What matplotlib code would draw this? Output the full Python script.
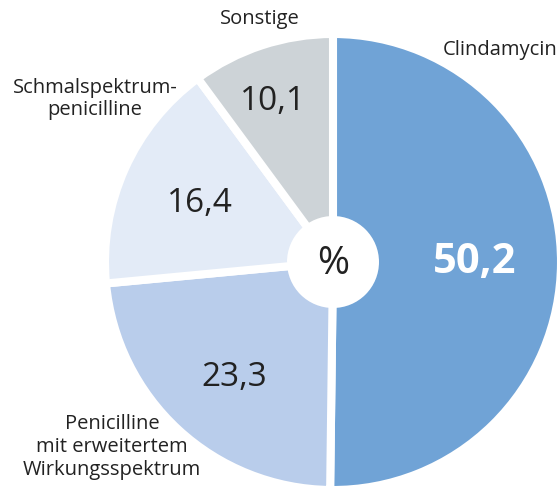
import matplotlib
matplotlib.use("Agg")
import matplotlib.pyplot as plt
from matplotlib.patches import Circle

categories = ["Clindamycin", "Penicilline\nmit erweitertem\nWirkungsspektrum", "Schmalspektrum-\npenicilline", "Sonstige"]
values = [50.2, 23.3, 16.4, 10.1]
value_labels = ["50,2", "23,3", "16,4", "10,1"]
colors = ["#70a3d6", "#b9cdeb", "#e3ebf7", "#cdd3d7"]

plt.rcParams['font.family'] = ['Open Sans', 'DejaVu Sans']

W, H = 560, 488
fig = plt.figure(figsize=(W / 100, H / 100), dpi=100)
ax = fig.add_axes([0, 0, 1, 1])

cx, cy, r = 333, H - 262, 228
wedges, _ = ax.pie(values, colors=colors, startangle=90, counterclock=False,
                   center=(cx, cy), radius=r, frame=True,
                   wedgeprops=dict(edgecolor='white', linewidth=5.8))
ax.set_xlim(0, W)
ax.set_ylim(0, H)
ax.axis('off')

ax.add_patch(Circle((cx, cy), 46, facecolor='white', edgecolor='none', zorder=5))
ax.text(cx, cy - 2, "%", ha='center', va='center', fontsize=28, color='#222222', zorder=6)

txt = '#222222'
num_pos = [(475, 262), (234, 377), (200, 203), (273, 101)]
for i, (lab, (px, py)) in enumerate(zip(value_labels, num_pos)):
    if i == 0:
        ax.text(px, H - py, lab, ha='center', va='center', fontsize=30, fontweight='bold', color='white')
    else:
        ax.text(px, H - py, lab, ha='center', va='center', fontsize=24, color=txt)

lab_pos = [(500, 50), (112, 447), (95, 99), (260, 19)]
for lab, (px, py) in zip(categories, lab_pos):
    ax.text(px, H - py, lab, ha='center', va='center', fontsize=14.5, color=txt, linespacing=1.2)

fig.savefig("out.png", dpi=100)
